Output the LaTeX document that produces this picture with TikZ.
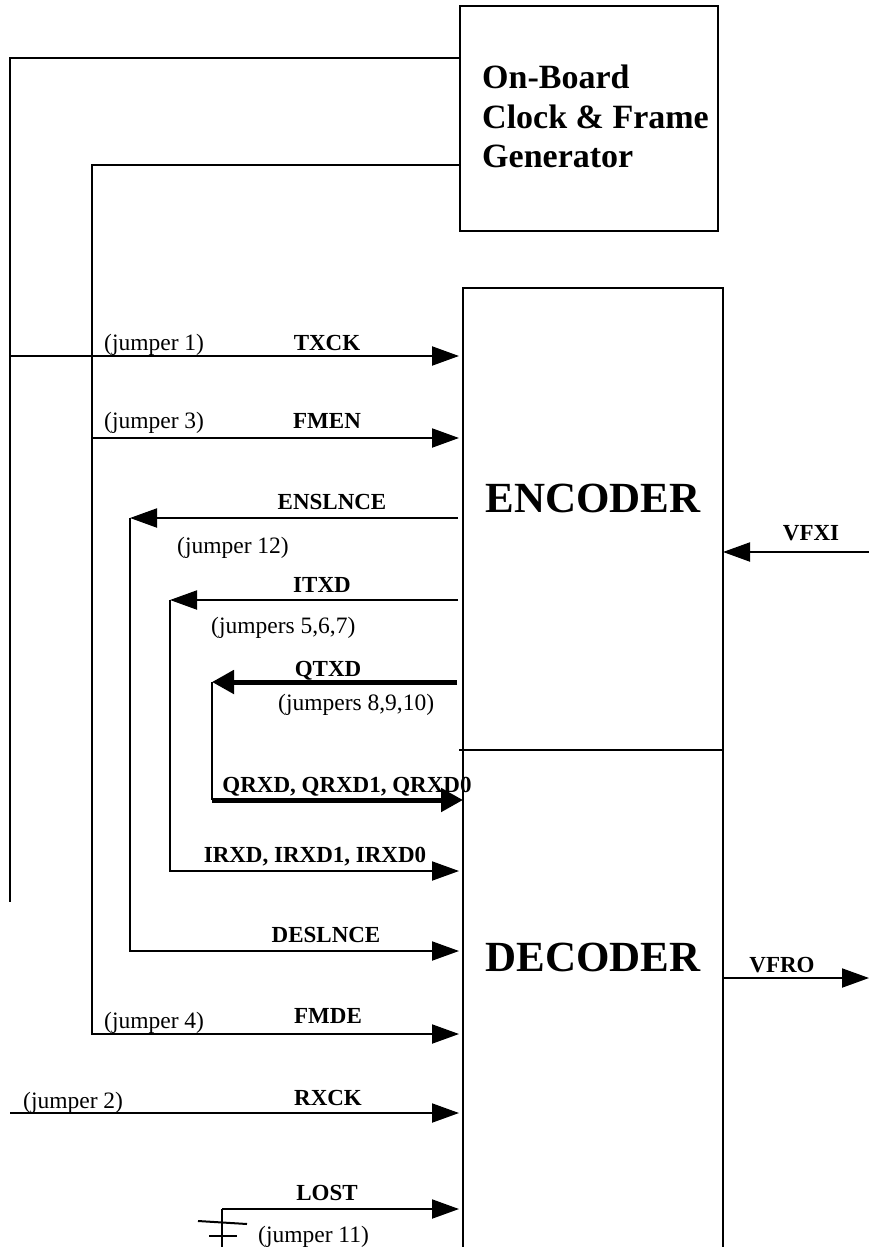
\documentclass[tikz,border=0pt]{standalone}
\usepackage{fontspec}
\setmainfont{Liberation Serif}
\usetikzlibrary{positioning,arrows.meta}

\begin{document}
\begin{tikzpicture}[x=1pt, y=-1pt,
    blk/.style={draw, line width=2pt, inner sep=0pt, outer sep=0pt},
    wire/.style={line width=2pt},
    sig/.style={wire, -{Triangle[length=27pt, width=19pt]}},
    bus/.style={line width=5pt, -{Triangle[length=22pt, width=23pt]}},
    lab/.style={font=\fontsize{23}{27}\selectfont\bfseries, inner sep=0pt, anchor=base},
    jmp/.style={font=\fontsize{23.5}{28}\selectfont, inner sep=0pt, anchor=base west},
    big/.style={font=\fontsize{43}{50}\selectfont\bfseries, inner sep=0pt},
  ]
  \useasboundingbox (0,0) rectangle (869,1247);
  % blocks
  \node[blk, minimum width=258pt, minimum height=225pt] (clk) at (589,118.5) {};
  \node[font=\fontsize{34}{39.5}\selectfont\bfseries, align=left, inner sep=0pt,
        anchor=north west] (clklbl) at (482,65) {On-Board\\Clock \& Frame\\Generator};
  \node[blk, minimum width=260pt, minimum height=462pt] (enc) at (593,519) {};
  \node[blk, minimum width=260pt, minimum height=520pt, below=0pt of enc] (dec) {};
  \node[big] (enclbl) at (593,498) {ENCODER};
  \node[big] (declbl) at (593,957) {DECODER};
  \draw[line width=1.5pt] ([xshift=-4pt]enc.south west) -- (enc.south east);

  % clock lines, jumpers 1-4
  \coordinate (o1) at (10,58);
  \coordinate (o2) at (10,902);
  \coordinate (i1) at (92,165);
  \coordinate (txck) at (10,356);
  \coordinate (fmen) at (92,438);
  \coordinate (fmde) at (92,1034);
  \coordinate (rxck) at (10,1113);
  \draw[wire] (clk.west |- o1) -- (o1) -- (o2);
  \draw[sig, shorten >=4pt] (txck) -- (enc.west |- txck);
  \draw[sig, shorten >=4pt] (fmen) -- (enc.west |- fmen);
  \draw[sig, shorten >=4pt] (clk.west |- i1) -- (i1) -- (fmde) -- (dec.west |- fmde);
  \draw[sig, shorten >=4pt] (rxck) -- (dec.west |- rxck);

  % loop-backs, jumpers 5-10 and 12
  \coordinate (ens) at (130,518);
  \coordinate (des) at (130,951);
  \coordinate (itx) at (170,600);
  \coordinate (irx) at (170,871);
  \coordinate (qtx) at (212,682);
  \coordinate (qrx) at (212,800);
  \draw[sig, shorten <=5pt] (enc.west |- ens) -- (ens);
  \draw[sig, shorten >=4pt] (ens) -- (des) -- (dec.west |- des);
  \draw[sig, shorten <=5pt] (enc.west |- itx) -- (itx);
  \draw[sig, shorten >=4pt] (itx) -- (irx) -- (dec.west |- irx);
  \draw[bus, shorten <=6pt] (enc.west |- qtx) -- (qtx);
  \draw[wire] (qtx) -- (qrx);
  \draw[bus] (qrx) -- (dec.west |- qrx);

  % LOST with jumper 11
  \coordinate (lost) at (222,1209);
  \coordinate (lostend) at (222,1250);
  \draw[sig, shorten >=4pt] (lost) -- (dec.west |- lost);
  \draw[wire] (lost) -- (lostend);
  \draw[wire] ([shift={(-24,12)}]lost) -- ++(49,3);
  \draw[wire] ([shift={(-13,27)}]lost) -- ++(28,0);

  % video side
  \coordinate (vfxi) at (869,552);
  \coordinate (vfro) at (869,978);
  \draw[sig] (vfxi) -- (enc.east |- vfxi);
  \draw[sig] (dec.east |- vfro) -- (vfro);

  % signal names
  \node[lab] (ltxck) at (327,350) {TXCK};
  \node[lab] (lfmen) at (327,428) {FMEN};
  \node[lab] (lens) at (332,509) {ENSLNCE};
  \node[lab] (litx) at (322,592) {ITXD};
  \node[lab] (lqtx) at (328,676) {QTXD};
  \node[lab] (lqrx) at (347,792) {QRXD, QRXD1, QRXD0};
  \node[lab] (lirx) at (315,862) {IRXD, IRXD1, IRXD0};
  \node[lab] (ldes) at (326,942) {DESLNCE};
  \node[lab] (lfmde) at (328,1023) {FMDE};
  \node[lab] (lrxck) at (328,1105) {RXCK};
  \node[lab] (llost) at (327,1200) {LOST};
  \node[lab] (lvfxi) at (811,540) {VFXI};
  \node[lab] (lvfro) at (782,972) {VFRO};

  % jumper notes
  \node[jmp] (j1) at (104,350) {(jumper 1)};
  \node[jmp] (j3) at (104,428) {(jumper 3)};
  \node[jmp] (j12) at (177,553) {(jumper 12)};
  \node[jmp] (j567) at (211,633) {(jumpers 5,6,7)};
  \node[jmp] (j8910) at (278,710) {(jumpers 8,9,10)};
  \node[jmp] (j4) at (104,1028) {(jumper 4)};
  \node[jmp] (j2) at (23,1108) {(jumper 2)};
  \node[jmp] (j11) at (258,1242) {(jumper 11)};
\end{tikzpicture}
\end{document}
